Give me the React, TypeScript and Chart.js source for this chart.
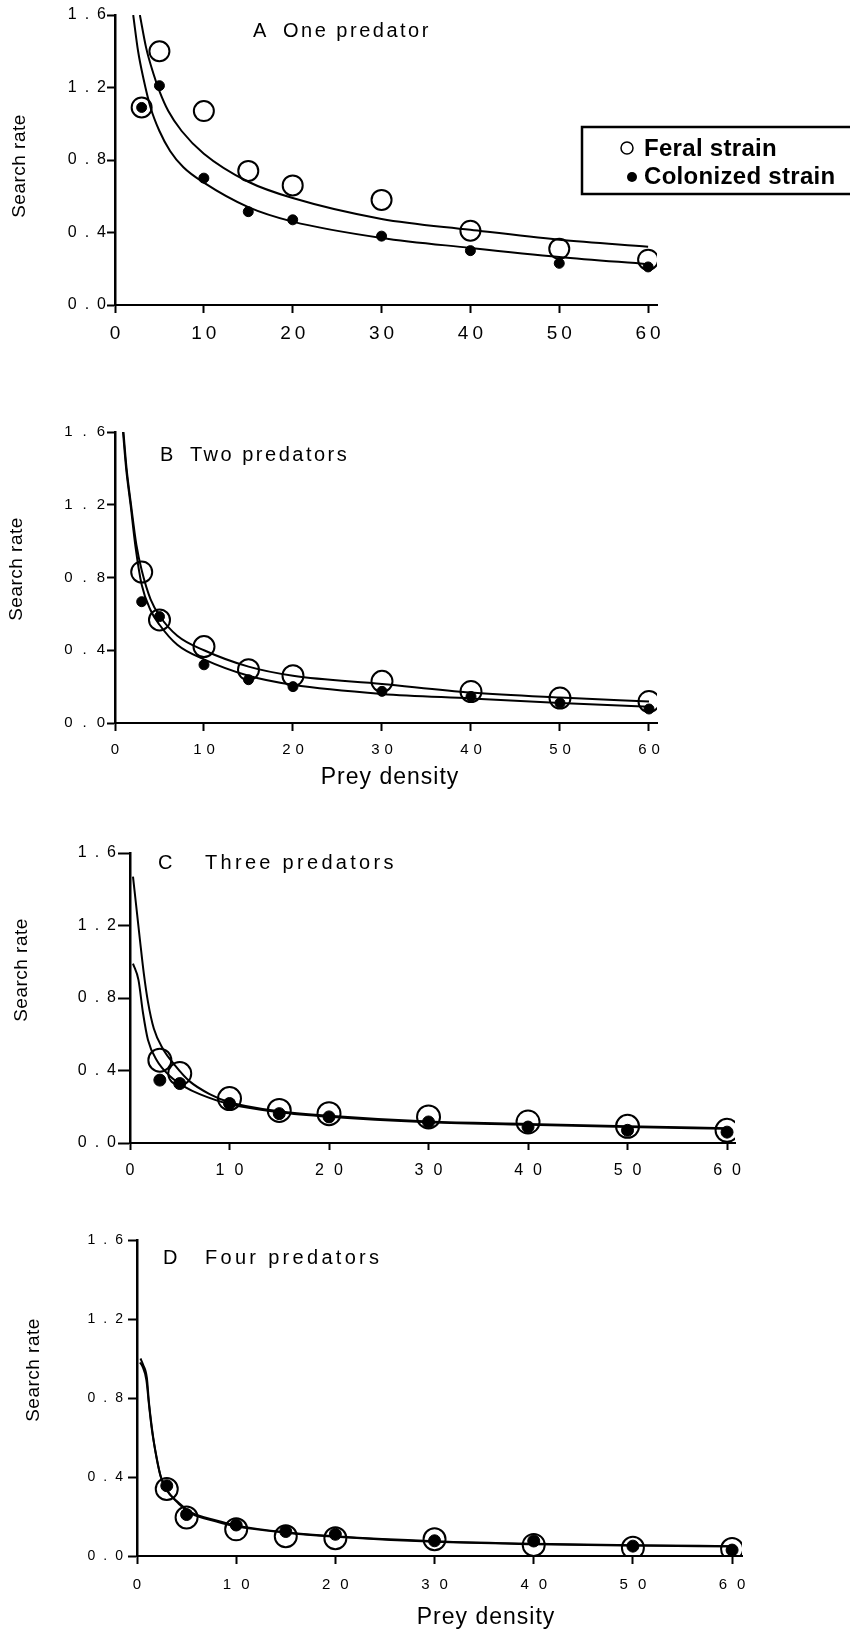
import React, { useEffect, useRef } from 'react';
import { Chart, registerables } from 'chart.js';

Chart.register(...registerables);

// ---------- text ----------
const X_TICKS = [0, 10, 20, 30, 40, 50, 60];
const X_TICK_LABELS = ['0', '10', '20', '30', '40', '50', '60'];
const Y_TICKS = [0, 0.4, 0.8, 1.2, 1.6];
const Y_TICK_LABELS = ['0.0', '0.4', '0.8', '1.2', '1.6'];
const LEGEND_LABELS = ['Feral strain', 'Colonized strain'];
const PANEL_LETTERS = ['A', 'B', 'C', 'D'];
const PANEL_NAMES = ['One predator', 'Two predators', 'Three predators', 'Four predators'];
const Y_TITLE = 'Search rate';
const X_TITLE = 'Prey density';

// ---------- observed data (prey density of each trial) ----------
const PREY_DENSITY = [3, 5, 10, 15, 20, 30, 40, 50, 60];

// Panel A: one predator
const feralA = [1.09, 1.40, 1.07, 0.74, 0.66, 0.58, 0.41, 0.31, 0.25];
const colonA = [1.09, 1.21, 0.70, 0.515, 0.47, 0.38, 0.30, 0.23, 0.21];
const feralFitXA = [2.8, 3.5, 4.3, 5, 6, 7.5, 10, 15, 20, 30, 40, 50, 60];
const feralFitA = [1.6, 1.42, 1.28, 1.18, 1.07, 0.96, 0.835, 0.68, 0.59, 0.475, 0.415, 0.36, 0.322];
const colonFitXA = [2.05, 2.6, 3.2, 4, 5, 6.2, 7.7, 10, 15, 20, 30, 40, 50, 60];
const colonFitA = [1.6, 1.40, 1.25, 1.09, 0.96, 0.85, 0.76, 0.675, 0.54, 0.46, 0.37, 0.315, 0.265, 0.225];

// Panel B: two predators
const feralB = [0.83, 0.567, 0.42, 0.293, 0.26, 0.229, 0.173, 0.137, 0.118];
const colonB = [0.667, 0.585, 0.32, 0.238, 0.20, 0.174, 0.146, 0.11, 0.077];
const feralFitXB = [0.95, 1.3, 1.8, 2.4, 3, 4, 5, 7, 10, 15, 20, 30, 40, 50, 60];
const feralFitB = [1.6, 1.4, 1.2, 0.98, 0.84, 0.68, 0.59, 0.48, 0.40, 0.31, 0.26, 0.215, 0.168, 0.14, 0.118];
const colonFitXB = [0.9, 1.25, 1.75, 2.3, 3, 4, 5, 7, 10, 15, 20, 30, 40, 50, 60];
const colonFitB = [1.6, 1.4, 1.2, 0.97, 0.76, 0.62, 0.54, 0.43, 0.35, 0.26, 0.21, 0.16, 0.135, 0.11, 0.09];

// Panel C: three predators
const feralC = [0.457, 0.383, 0.245, 0.18, 0.162, 0.144, 0.116, 0.092, 0.07];
const colonC = [0.347, 0.328, 0.218, 0.162, 0.144, 0.116, 0.088, 0.07, 0.06];
const feralFitXC = [0.3, 0.6, 1, 1.4, 1.8, 2.4, 3.3, 4.5, 6, 8, 10, 15, 20, 30, 40, 50, 60];
const feralFitC = [1.47, 1.32, 1.12, 0.93, 0.78, 0.63, 0.52, 0.43, 0.34, 0.27, 0.225, 0.175, 0.15, 0.118, 0.105, 0.092, 0.082];
const colonFitXC = [0.3, 0.85, 1.3, 1.8, 2.7, 4, 5.5, 7, 10, 15, 20, 30, 40, 50, 60];
const colonFitC = [0.99, 0.9, 0.72, 0.57, 0.455, 0.37, 0.31, 0.27, 0.215, 0.17, 0.145, 0.115, 0.1, 0.088, 0.078];

// Panel D: four predators
const feralD = [0.339, 0.195, 0.135, 0.10, 0.09, 0.085, 0.056, 0.042, 0.035];
const colonD = [0.356, 0.21, 0.157, 0.124, 0.11, 0.077, 0.076, 0.05, 0.03];
const feralFitXD = [0.35, 0.6, 1, 1.2, 1.5, 1.85, 2.35, 2.9, 4.2, 5.5, 8, 10, 15, 20, 30, 40, 50, 60];
const feralFitD = [1.0, 0.97, 0.9, 0.78, 0.65, 0.53, 0.41, 0.34, 0.27, 0.22, 0.18, 0.155, 0.12, 0.10, 0.075, 0.062, 0.055, 0.05];
const colonFitXD = [0.3, 0.55, 0.95, 1.2, 1.5, 1.9, 2.4, 3, 4.2, 5.5, 8, 10, 15, 20, 30, 40, 50, 60];
const colonFitD = [0.98, 0.96, 0.89, 0.77, 0.64, 0.52, 0.40, 0.335, 0.265, 0.215, 0.175, 0.15, 0.118, 0.098, 0.072, 0.06, 0.053, 0.048];

// ---------- layout / style ----------
const FONT = '"Liberation Sans", Arial, Helvetica, sans-serif';
const XAXIS_H = 40;
const W = 850;

type PanelCfg = {
  idx: number;
  feral: number[]; colon: number[];
  feralFitX: number[]; feralFit: number[];
  colonFitX: number[]; colonFit: number[];
  top: number; height: number;
  area: { left: number; right: number; top: number; bottom: number };
  xMax: number;
  xTick: { size: number; spacing: number; len: number; pad: number };
  yTick: { size: number; spacing: number; len: number; pad: number };
  ringR: number; dotR: number;
  letterPos: [number, number]; namePos: [number, number]; titleSpacing: number;
  yTitlePos: [number, number];
  xTitlePos?: [number, number];
  legend?: boolean;
};

const PANELS: PanelCfg[] = [
  {
    idx: 0, feral: feralA, colon: colonA,
    feralFitX: feralFitXA, feralFit: feralFitA, colonFitX: colonFitXA, colonFit: colonFitA,
    top: 0, height: 370,
    area: { left: 115, right: 657, top: 15, bottom: 305 },
    xMax: 61,
    xTick: { size: 19, spacing: 4, len: 8, pad: 9 },
    yTick: { size: 16, spacing: 8, len: 8, pad: -7 },
    ringR: 10, dotR: 5,
    letterPos: [253, 31], namePos: [283, 31], titleSpacing: 2.5,
    yTitlePos: [20, 166],
    legend: true,
  },
  {
    idx: 1, feral: feralB, colon: colonB,
    feralFitX: feralFitXB, feralFit: feralFitB, colonFitX: colonFitXB, colonFit: colonFitB,
    top: 410, height: 380,
    area: { left: 115, right: 657, top: 22, bottom: 313 },
    xMax: 60.9,
    xTick: { size: 15, spacing: 5, len: 8, pad: 10 },
    yTick: { size: 15, spacing: 10, len: 8, pad: -8 },
    ringR: 10.5, dotR: 5,
    letterPos: [160, 45], namePos: [190, 45], titleSpacing: 2.5,
    yTitlePos: [17, 159],
    xTitlePos: [390, 368],
  },
  {
    idx: 2, feral: feralC, colon: colonC,
    feralFitX: feralFitXC, feralFit: feralFitC, colonFitX: colonFitXC, colonFit: colonFitC,
    top: 830, height: 360,
    area: { left: 130, right: 735, top: 23, bottom: 313 },
    xMax: 60.8,
    xTick: { size: 16, spacing: 10, len: 7, pad: 11 },
    yTick: { size: 16, spacing: 8, len: 12, pad: -6 },
    ringR: 11.5, dotR: 6,
    letterPos: [158, 33], namePos: [205, 33], titleSpacing: 3.3,
    yTitlePos: [22, 140],
  },
  {
    idx: 3, feral: feralD, colon: colonD,
    feralFitX: feralFitXD, feralFit: feralFitD, colonFitX: colonFitXD, colonFit: colonFitD,
    top: 1225, height: 409,
    area: { left: 137, right: 742, top: 15, bottom: 331 },
    xMax: 61,
    xTick: { size: 15, spacing: 10, len: 8, pad: 12 },
    yTick: { size: 14, spacing: 8, len: 9, pad: -3 },
    ringR: 11, dotR: 6,
    letterPos: [163, 33], namePos: [205, 33], titleSpacing: 3.3,
    yTitlePos: [34, 145],
    xTitlePos: [486, 393],
  },
];

const toPoints = (xs: number[], ys: number[]) => xs.map((x, i) => ({ x, y: ys[i] }));

function makeSpacingPlugin(cfg: PanelCfg) {
  return {
    id: 'tickLetterSpacing',
    beforeDraw(chart: any) {
      const specs: [string, number, number][] = [
        ['x', cfg.xTick.spacing, cfg.xTick.spacing / 2],
        ['y', cfg.yTick.spacing, 0],
      ];
      for (const [id, sp, shift] of specs) {
        const s: any = chart.scales[id];
        if (!s || s.__spaced) continue;
        const orig = s.drawLabels.bind(s);
        s.drawLabels = (ca: any) => {
          const c = chart.ctx;
          c.save();
          c.letterSpacing = sp + 'px';
          c.translate(shift, 0);
          orig(ca);
          c.restore();
        };
        s.__spaced = true;
      }
    },
  };
}

function makeTextPlugin(cfg: PanelCfg) {
  return {
    id: 'panelText',
    afterDraw(chart: any) {
      const ctx = chart.ctx as CanvasRenderingContext2D & { letterSpacing?: string };
      ctx.save();
      ctx.fillStyle = '#000';
      ctx.strokeStyle = '#000';
      ctx.textBaseline = 'middle';
      ctx.textAlign = 'left';

      // panel label
      ctx.font = `20px ${FONT}`;
      ctx.letterSpacing = cfg.titleSpacing + 'px';
      ctx.fillText(PANEL_LETTERS[cfg.idx], cfg.letterPos[0], cfg.letterPos[1]);
      ctx.fillText(PANEL_NAMES[cfg.idx], cfg.namePos[0], cfg.namePos[1]);

      // y title
      ctx.save();
      ctx.translate(cfg.yTitlePos[0], cfg.yTitlePos[1]);
      ctx.rotate(-Math.PI / 2);
      ctx.textAlign = 'center';
      ctx.font = `19px ${FONT}`;
      ctx.letterSpacing = '0.5px';
      ctx.fillText(Y_TITLE, 0, 0);
      ctx.restore();

      // x title
      if (cfg.xTitlePos) {
        ctx.textAlign = 'center';
        ctx.font = `23px ${FONT}`;
        ctx.letterSpacing = '1px';
        ctx.fillText(X_TITLE, cfg.xTitlePos[0], cfg.xTitlePos[1]);
      }

      // legend
      if (cfg.legend) {
        ctx.letterSpacing = '0.3px';
        ctx.fillStyle = '#fff';
        ctx.fillRect(582, 126, 280, 68);
        ctx.fillStyle = '#000';
        ctx.lineWidth = 2.5;
        ctx.strokeRect(582, 127, 280, 67);
        ctx.lineWidth = 1.5;
        ctx.beginPath();
        ctx.arc(627, 148, 6, 0, Math.PI * 2);
        ctx.stroke();
        ctx.beginPath();
        ctx.arc(632, 177, 5, 0, Math.PI * 2);
        ctx.fill();
        ctx.textAlign = 'left';
        ctx.font = `bold 24px ${FONT}`;
        ctx.fillText(LEGEND_LABELS[0], 644, 149);
        ctx.fillText(LEGEND_LABELS[1], 644, 177);
      }
      ctx.restore();
    },
  };
}

function Panel({ cfg }: { cfg: PanelCfg }) {
  const ref = useRef<HTMLCanvasElement>(null);
  useEffect(() => {
    const canvas = ref.current;
    if (!canvas) return;
    const a = cfg.area;
    const chart = new Chart(canvas, {
      type: 'line',
      data: {
        datasets: [
          {
            label: LEGEND_LABELS[1],
            data: toPoints(PREY_DENSITY, cfg.colon),
            showLine: false,
            pointRadius: cfg.dotR,
            pointBackgroundColor: '#000',
            pointBorderColor: '#000',
            pointBorderWidth: 1,
            order: 1,
          },
          {
            label: LEGEND_LABELS[0],
            data: toPoints(PREY_DENSITY, cfg.feral),
            showLine: false,
            pointRadius: cfg.ringR,
            pointBackgroundColor: 'rgba(0,0,0,0)',
            pointBorderColor: '#000',
            pointBorderWidth: 2,
            order: 2,
          },
          {
            label: LEGEND_LABELS[0] + ' fit',
            data: toPoints(cfg.feralFitX, cfg.feralFit),
            pointRadius: 0,
            borderColor: '#000',
            borderWidth: 2,
            fill: false,
            cubicInterpolationMode: 'monotone',
            order: 3,
          },
          {
            label: LEGEND_LABELS[1] + ' fit',
            data: toPoints(cfg.colonFitX, cfg.colonFit),
            pointRadius: 0,
            borderColor: '#000',
            borderWidth: 2,
            fill: false,
            cubicInterpolationMode: 'monotone',
            order: 4,
          },
        ] as any,
      },
      options: {
        animation: false,
        responsive: false,
        devicePixelRatio: 1,
        events: [],
        layout: {
          padding: {
            left: 0,
            top: a.top,
            right: W - a.right,
            bottom: cfg.height - a.bottom - XAXIS_H,
          },
        },
        plugins: {
          legend: { display: false },
          tooltip: { enabled: false },
          title: { display: false },
        },
        scales: {
          x: {
            type: 'linear',
            min: 0,
            max: cfg.xMax,
            afterBuildTicks: (s: any) => {
              s.ticks = X_TICKS.map((v) => ({ value: v }));
            },
            afterFit: (s: any) => {
              s.height = XAXIS_H;
            },
            ticks: {
              callback: (_v: any, i: number) => X_TICK_LABELS[i],
              color: '#000',
              font: { family: FONT, size: cfg.xTick.size },
              padding: cfg.xTick.pad,
              maxRotation: 0,
              minRotation: 0,
              autoSkip: false,
            },
            grid: {
              display: true,
              drawOnChartArea: false,
              drawTicks: true,
              tickLength: cfg.xTick.len,
              tickWidth: 2,
              tickColor: '#000',
              color: '#000',
            },
            border: { display: true, color: '#000', width: 2 },
          },
          y: {
            type: 'linear',
            min: 0,
            max: 1.6,
            afterBuildTicks: (s: any) => {
              s.ticks = Y_TICKS.map((v) => ({ value: v }));
            },
            afterFit: (s: any) => {
              s.width = a.left;
            },
            ticks: {
              callback: (_v: any, i: number) => Y_TICK_LABELS[i],
              color: '#000',
              font: { family: FONT, size: cfg.yTick.size },
              padding: cfg.yTick.pad,
              autoSkip: false,
            },
            grid: {
              display: true,
              drawOnChartArea: false,
              drawTicks: true,
              tickLength: cfg.yTick.len,
              tickWidth: 2,
              tickColor: '#000',
              color: '#000',
            },
            border: { display: true, color: '#000', width: 2.5 },
          },
        },
      } as any,
      plugins: [makeSpacingPlugin(cfg), makeTextPlugin(cfg)] as any,
    });
    return () => chart.destroy();
  }, [cfg]);

  return (
    <canvas
      ref={ref}
      width={W}
      height={cfg.height}
      style={{ position: 'absolute', left: 0, top: cfg.top, width: W, height: cfg.height }}
    />
  );
}

export default function App() {
  return (
    <div style={{ position: 'absolute', left: 0, top: 0, width: W, height: 1634, background: '#fff', overflow: 'hidden' }}>
      {PANELS.map((p) => (
        <Panel key={p.idx} cfg={p} />
      ))}
    </div>
  );
}
